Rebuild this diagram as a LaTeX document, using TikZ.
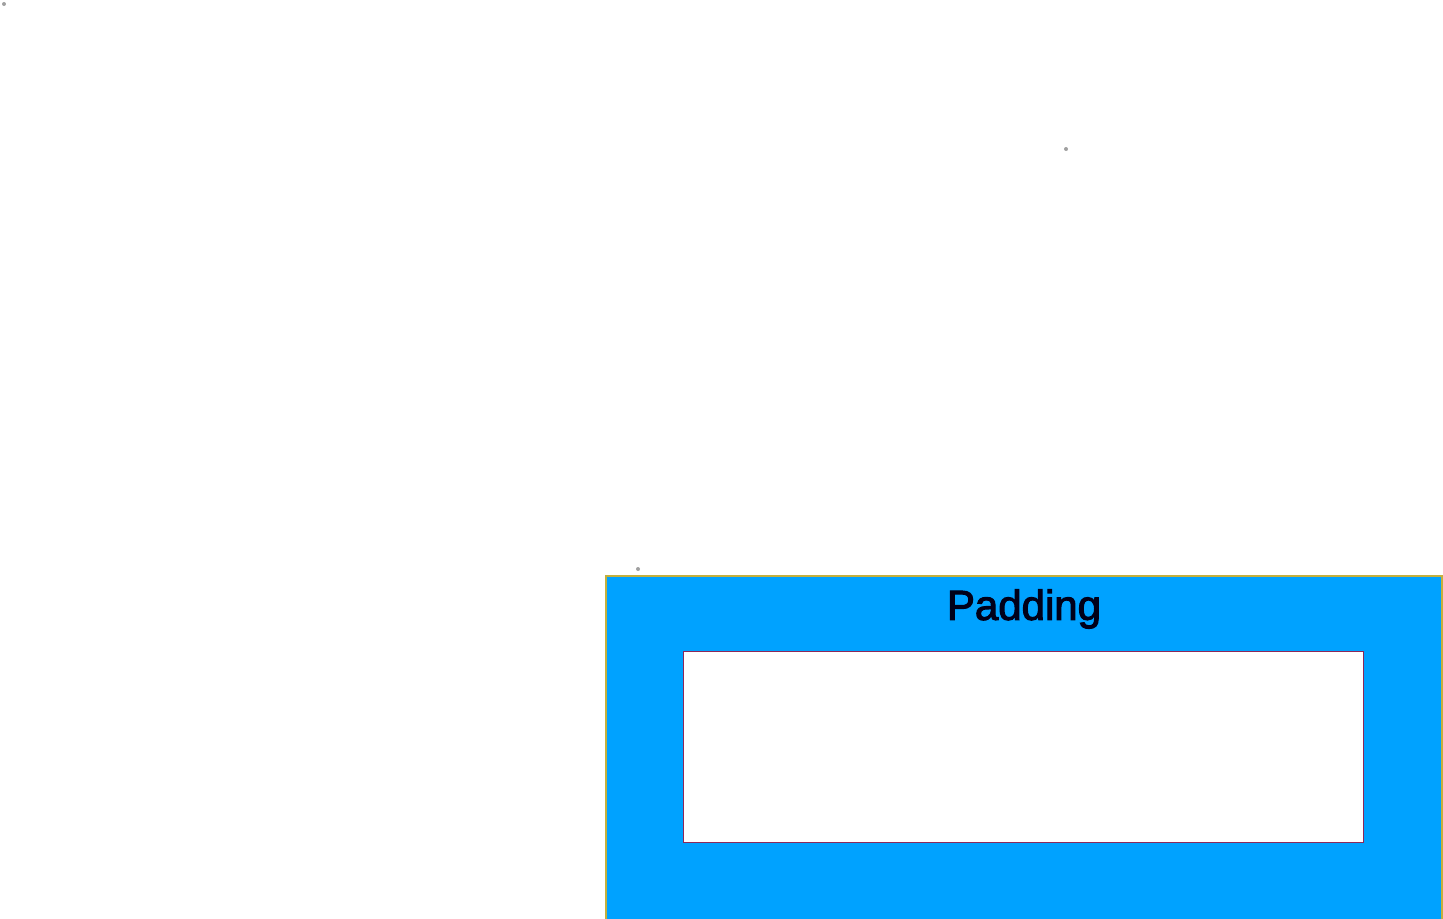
\documentclass[tikz,border=0pt]{standalone}
\usepackage{fontspec}
\setmainfont{Liberation Sans}
\newfontfamily\padfont{Liberation Sans}[FakeBold=2.5]
\usetikzlibrary{positioning}
\definecolor{padblue}{RGB}{0,162,255}
\definecolor{padrim}{RGB}{196,176,60}
\definecolor{contentrim}{RGB}{140,40,90}
\definecolor{dotgray}{RGB}{160,160,160}

\begin{document}
\begin{tikzpicture}[x=0.5pt,y=-0.5pt,
      padbox/.style={draw=padrim,line width=1.2pt,fill=padblue,inner sep=0pt,
        minimum width=418pt,minimum height=200pt},
      contentbox/.style={draw=contentrim,line width=0.4pt,fill=white,inner sep=0pt,
        minimum width=340pt,minimum height=95.5pt},
      lbl/.style={font=\padfont\fontsize{21}{25}\selectfont,text=black!90!blue,inner sep=0pt},
      dot/.style={circle,fill=dotgray,inner sep=0pt,minimum size=2pt}]
    \useasboundingbox (0,0) rectangle (1443,918);
    \clip (0,0) rectangle (1443,918);
    % padding area and content area
    \node[padbox,anchor=north west](pad) at (605,575){};
    \node[contentbox,anchor=north west](content) at (683,651){};
    \node[lbl](padlabel) at (1024,609){Padding};
    % stray handle dots
    \node[dot](d1) at (4,4){};
    \node[dot](d2) at (1066,149){};
    \node[dot](d3) at (638,569){};
  \end{tikzpicture}
\end{document}
